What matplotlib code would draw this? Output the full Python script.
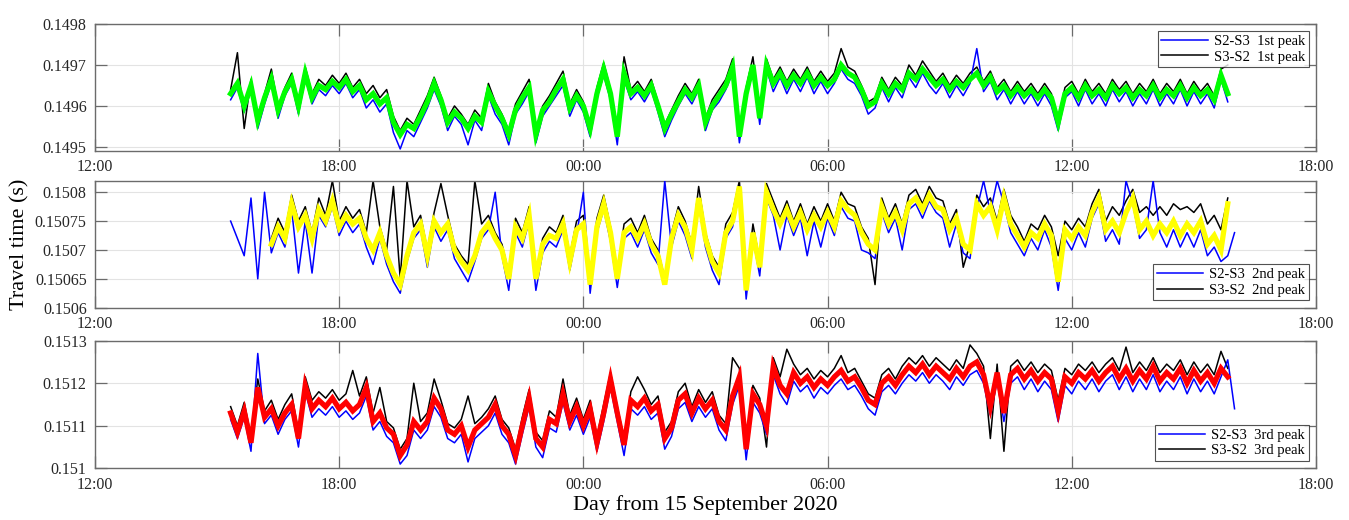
import numpy as np
import pandas as pd
import matplotlib
matplotlib.use("Agg")
import matplotlib.pyplot as plt
import matplotlib.dates as mdates

nan = np.nan

# ---------------- data ----------------
times = pd.date_range("2020-09-15 15:20", periods=149, freq="10min")
x_start = pd.Timestamp("2020-09-15 12:00")
x_end = pd.Timestamp("2020-09-16 18:00")
x_tick_times = pd.date_range("2020-09-15 12:00", "2020-09-16 18:00", freq="6h")

# Panel 1: 1st peak
p1_s2s3 = [
0.149615, 0.149645, 0.149585, 0.149640, 0.149545, 0.149605, 0.149655, 0.149570, 0.149625, 0.149655,
0.149580, 0.149670, 0.149605, 0.149640, 0.149625, 0.149650, 0.149630, 0.149655, 0.149620, 0.149640,
0.149595, 0.149615, 0.149585, 0.149605, 0.149535, 0.149495, 0.149540, 0.149525, 0.149560, 0.149595,
0.149640, 0.149600, 0.149540, 0.149575, 0.149555, 0.149505, 0.149565, 0.149540, 0.149625, 0.149580,
0.149555, 0.149505, 0.149580, 0.149605, 0.149635, 0.149510, 0.149575, 0.149600, 0.149625, 0.149650,
0.149575, 0.149615, 0.149585, 0.149525, 0.149620, 0.149675, 0.149615, 0.149505, 0.149665, 0.149615,
0.149635, 0.149610, 0.149640, 0.149585, 0.149525, 0.149565, 0.149600, 0.149630, 0.149605, 0.149640,
0.149540, 0.149590, 0.149610, 0.149640, 0.149680, 0.149510, 0.149620, 0.149685, 0.149555, 0.149690,
0.149635, 0.149670, 0.149630, 0.149665, 0.149635, 0.149670, 0.149630, 0.149660, 0.149630, 0.149655,
0.149690, 0.149665, 0.149655, 0.149625, 0.149580, 0.149595, 0.149645, 0.149610, 0.149645, 0.149620,
0.149670, 0.149645, 0.149680, 0.149650, 0.149630, 0.149655, 0.149620, 0.149650, 0.149625, 0.149655,
0.149740, 0.149635, 0.149660, 0.149615, 0.149640, 0.149605, 0.149635, 0.149605, 0.149630, 0.149600,
0.149630, 0.149600, 0.149540, 0.149620, 0.149635, 0.149600, 0.149640, 0.149605, 0.149630, 0.149600,
0.149640, 0.149610, 0.149635, 0.149600, 0.149630, 0.149605, 0.149640, 0.149600, 0.149630, 0.149605,
0.149640, 0.149600, 0.149635, 0.149605, 0.149630, 0.149595, 0.149665, 0.149610, nan]
p1_s3s2 = [
0.149640, 0.149730, 0.149545, 0.149665, 0.149575, 0.149630, 0.149690, 0.149598, 0.149645, 0.149680,
0.149610, 0.149695, 0.149630, 0.149665, 0.149650, 0.149675, 0.149655, 0.149680, 0.149645, 0.149665,
0.149630, 0.149650, 0.149620, 0.149640, 0.149575, 0.149540, 0.149570, 0.149555, 0.149590, 0.149625,
0.149670, 0.149625, 0.149570, 0.149600, 0.149580, 0.149555, 0.149590, 0.149570, 0.149655, 0.149610,
0.149580, 0.149540, 0.149605, 0.149635, 0.149665, 0.149540, 0.149600, 0.149625, 0.149655, 0.149685,
0.149605, 0.149640, 0.149610, 0.149555, 0.149645, 0.149705, 0.149640, 0.149535, 0.149720, 0.149640,
0.149660, 0.149635, 0.149665, 0.149610, 0.149555, 0.149590, 0.149625, 0.149655, 0.149630, 0.149665,
0.149570, 0.149615, 0.149640, 0.149665, 0.149715, 0.149535, 0.149645, 0.149720, 0.149580, 0.149715,
0.149665, 0.149695, 0.149660, 0.149690, 0.149665, 0.149695, 0.149660, 0.149685, 0.149660, 0.149680,
0.149740, 0.149695, 0.149685, 0.149650, 0.149610, 0.149620, 0.149670, 0.149640, 0.149670, 0.149650,
0.149700, 0.149675, 0.149710, 0.149685, 0.149660, 0.149680, 0.149650, 0.149675, 0.149655, 0.149680,
0.149695, 0.149660, 0.149685, 0.149645, 0.149665, 0.149635, 0.149660, 0.149635, 0.149655, 0.149630,
0.149655, 0.149630, 0.149570, 0.149645, 0.149660, 0.149630, 0.149665, 0.149635, 0.149655, 0.149630,
0.149665, 0.149640, 0.149660, 0.149630, 0.149655, 0.149635, 0.149665, 0.149630, 0.149655, 0.149635,
0.149665, 0.149630, 0.149660, 0.149635, 0.149655, 0.149625, 0.149690, 0.149700, nan]
p1_mid = [
0.149630, 0.149655, 0.149600, 0.149650, 0.149565, 0.149620, 0.149665, 0.149590, 0.149635, 0.149665,
0.149600, 0.149680, 0.149620, 0.149650, 0.149640, 0.149660, 0.149645, 0.149665, 0.149635, 0.149650,
0.149615, 0.149630, 0.149605, 0.149620, 0.149560, 0.149530, 0.149555, 0.149545, 0.149575, 0.149610,
0.149655, 0.149615, 0.149560, 0.149585, 0.149570, 0.149545, 0.149575, 0.149560, 0.149635, 0.149600,
0.149570, 0.149530, 0.149590, 0.149620, 0.149645, 0.149530, 0.149590, 0.149610, 0.149640, 0.149665,
0.149595, 0.149625, 0.149600, 0.149545, 0.149630, 0.149690, 0.149630, 0.149525, 0.149680, 0.149630,
0.149645, 0.149625, 0.149650, 0.149600, 0.149545, 0.149580, 0.149610, 0.149640, 0.149620, 0.149650,
0.149560, 0.149600, 0.149625, 0.149650, 0.149695, 0.149525, 0.149630, 0.149700, 0.149570, 0.149700,
0.149655, 0.149680, 0.149650, 0.149675, 0.149655, 0.149680, 0.149650, 0.149670, 0.149650, 0.149665,
0.149700, 0.149680, 0.149670, 0.149640, 0.149600, 0.149610, 0.149655, 0.149630, 0.149655, 0.149640,
0.149680, 0.149665, 0.149690, 0.149670, 0.149650, 0.149665, 0.149640, 0.149660, 0.149645, 0.149665,
0.149680, 0.149650, 0.149670, 0.149635, 0.149650, 0.149625, 0.149645, 0.149625, 0.149640, 0.149620,
0.149640, 0.149620, 0.149560, 0.149630, 0.149645, 0.149620, 0.149650, 0.149625, 0.149640, 0.149620,
0.149650, 0.149630, 0.149645, 0.149620, 0.149640, 0.149625, 0.149650, 0.149620, 0.149640, 0.149625,
0.149650, 0.149620, 0.149645, 0.149625, 0.149640, 0.149615, 0.149675, 0.149630, nan]

# Panel 2: 2nd peak
p2_s2s3 = [
0.150750, 0.150720, 0.150690, 0.150790, 0.150650, 0.150800, 0.150695, 0.150730, 0.150705, 0.150770,
0.150660, 0.150750, 0.150660, 0.150760, 0.150740, 0.150775, 0.150725, 0.150750, 0.150730, 0.150745,
0.150705, 0.150675, 0.150720, 0.150675, 0.150645, 0.150625, 0.150680, 0.150720, 0.150735, 0.150670,
0.150740, 0.150715, 0.150735, 0.150685, 0.150665, 0.150645, 0.150680, 0.150720, 0.150735, 0.150800,
0.150690, 0.150630, 0.150730, 0.150705, 0.150750, 0.150630, 0.150695, 0.150715, 0.150705, 0.150735,
0.150665, 0.150725, 0.150800, 0.150625, 0.150730, 0.150770, 0.150715, 0.150635, 0.150720, 0.150730,
0.150705, 0.150735, 0.150695, 0.150675, 0.150820, 0.150705, 0.150750, 0.150725, 0.150685, 0.150780,
0.150705, 0.150665, 0.150640, 0.150720, 0.150740, 0.150800, 0.150615, 0.150720, 0.150655, 0.150790,
0.150760, 0.150700, 0.150760, 0.150725, 0.150755, 0.150690, 0.150750, 0.150705, 0.150755, 0.150725,
0.150775, 0.150755, 0.150750, 0.150700, 0.150695, 0.150685, 0.150765, 0.150730, 0.150755, 0.150700,
0.150770, 0.150780, 0.150755, 0.150785, 0.150765, 0.150755, 0.150705, 0.150745, 0.150695, 0.150685,
0.150770, 0.150820, 0.150765, 0.150820, 0.150780, 0.150730, 0.150710, 0.150690, 0.150720, 0.150700,
0.150735, 0.150705, 0.150630, 0.150720, 0.150700, 0.150730, 0.150705, 0.150755, 0.150780, 0.150715,
0.150735, 0.150710, 0.150820, 0.150780, 0.150720, 0.150735, 0.150820, 0.150730, 0.150705, 0.150735,
0.150705, 0.150730, 0.150705, 0.150735, 0.150690, 0.150705, 0.150680, 0.150690, 0.150730]
p2_s3s2 = [
nan, nan, nan, nan, nan, nan, 0.150720, 0.150755, 0.150730, 0.150795,
0.150750, 0.150775, 0.150730, 0.150790, 0.150760, 0.150820, 0.150750, 0.150775, 0.150755, 0.150770,
0.150730, 0.150820, 0.150740, 0.150700, 0.150810, 0.150650, 0.150820, 0.150740, 0.150760, 0.150700,
0.150765, 0.150815, 0.150760, 0.150710, 0.150690, 0.150675, 0.150820, 0.150745, 0.150760, 0.150730,
0.150710, 0.150660, 0.150755, 0.150730, 0.150775, 0.150660, 0.150720, 0.150740, 0.150730, 0.150760,
0.150690, 0.150750, 0.150760, 0.150650, 0.150755, 0.150795, 0.150740, 0.150660, 0.150745, 0.150755,
0.150730, 0.150760, 0.150720, 0.150700, 0.150650, 0.150730, 0.150775, 0.150750, 0.150710, 0.150810,
0.150730, 0.150690, 0.150670, 0.150745, 0.150765, 0.150820, 0.150640, 0.150745, 0.150680, 0.150815,
0.150785, 0.150755, 0.150785, 0.150750, 0.150780, 0.150745, 0.150775, 0.150750, 0.150780, 0.150750,
0.150800, 0.150780, 0.150775, 0.150740, 0.150720, 0.150640, 0.150790, 0.150755, 0.150780, 0.150745,
0.150795, 0.150805, 0.150780, 0.150810, 0.150790, 0.150785, 0.150745, 0.150770, 0.150670, 0.150710,
0.150795, 0.150775, 0.150790, 0.150750, 0.150805, 0.150760, 0.150740, 0.150715, 0.150745, 0.150735,
0.150760, 0.150740, 0.150690, 0.150750, 0.150735, 0.150755, 0.150740, 0.150780, 0.150805, 0.150750,
0.150775, 0.150760, 0.150785, 0.150805, 0.150765, 0.150775, 0.150760, 0.150775, 0.150760, 0.150780,
0.150770, 0.150775, 0.150765, 0.150780, 0.150745, 0.150760, 0.150735, 0.150790, nan]
p2_mid = [
nan, nan, nan, nan, nan, nan, 0.150710, 0.150740, 0.150720, 0.150780,
0.150740, 0.150760, 0.150720, 0.150770, 0.150750, 0.150785, 0.150740, 0.150760, 0.150745, 0.150755,
0.150720, 0.150700, 0.150730, 0.150690, 0.150660, 0.150640, 0.150690, 0.150730, 0.150745, 0.150690,
0.150750, 0.150730, 0.150745, 0.150700, 0.150680, 0.150665, 0.150690, 0.150730, 0.150745, 0.150720,
0.150700, 0.150650, 0.150740, 0.150720, 0.150760, 0.150650, 0.150710, 0.150725, 0.150720, 0.150745,
0.150680, 0.150735, 0.150745, 0.150640, 0.150740, 0.150780, 0.150730, 0.150650, 0.150730, 0.150740,
0.150720, 0.150745, 0.150710, 0.150690, 0.150640, 0.150720, 0.150760, 0.150740, 0.150700, 0.150790,
0.150720, 0.150680, 0.150660, 0.150730, 0.150750, 0.150810, 0.150630, 0.150730, 0.150670, 0.150800,
0.150770, 0.150745, 0.150770, 0.150740, 0.150765, 0.150735, 0.150760, 0.150740, 0.150765, 0.150740,
0.150785, 0.150770, 0.150760, 0.150730, 0.150710, 0.150700, 0.150775, 0.150745, 0.150765, 0.150735,
0.150780, 0.150790, 0.150770, 0.150795, 0.150775, 0.150770, 0.150735, 0.150755, 0.150710, 0.150700,
0.150780, 0.150760, 0.150775, 0.150735, 0.150790, 0.150745, 0.150725, 0.150705, 0.150730, 0.150720,
0.150745, 0.150725, 0.150645, 0.150735, 0.150720, 0.150740, 0.150725, 0.150765, 0.150790, 0.150735,
0.150750, 0.150730, 0.150765, 0.150790, 0.150735, 0.150750, 0.150725, 0.150745, 0.150730, 0.150750,
0.150725, 0.150745, 0.150730, 0.150750, 0.150710, 0.150725, 0.150700, 0.150780, nan]

# Panel 3: 3rd peak
p3_s2s3 = [
0.151115, 0.151070, 0.151120, 0.151040, 0.151270, 0.151105, 0.151125, 0.151080, 0.151115, 0.151135,
0.151050, 0.151180, 0.151120, 0.151140, 0.151125, 0.151145, 0.151120, 0.151135, 0.151115, 0.151130,
0.151170, 0.151090, 0.151110, 0.151075, 0.151060, 0.151010, 0.151030, 0.151090, 0.151070, 0.151090,
0.151145, 0.151120, 0.151070, 0.151060, 0.151080, 0.151015, 0.151070, 0.151085, 0.151100, 0.151130,
0.151080, 0.151060, 0.151010, 0.151080, 0.151145, 0.151050, 0.151025, 0.151095, 0.151085, 0.151155,
0.151090, 0.151125, 0.151080, 0.151120, 0.151040, 0.151110, 0.151190, 0.151110, 0.151030, 0.151140,
0.151125, 0.151145, 0.151115, 0.151130, 0.151045, 0.151075, 0.151140, 0.151155, 0.151110, 0.151145,
0.151120, 0.151140, 0.151090, 0.151065, 0.151150, 0.151195, 0.151020, 0.151155, 0.151130, 0.151080,
0.151220, 0.151175, 0.151150, 0.151205, 0.151180, 0.151195, 0.151165, 0.151190, 0.151175, 0.151195,
0.151210, 0.151185, 0.151195, 0.151170, 0.151140, 0.151125, 0.151180, 0.151195, 0.151175, 0.151200,
0.151220, 0.151205, 0.151225, 0.151200, 0.151220, 0.151205, 0.151185, 0.151215, 0.151195, 0.151220,
0.151230, 0.151200, 0.151125, 0.151205, 0.151110, 0.151200, 0.151215, 0.151185, 0.151210, 0.151180,
0.151205, 0.151185, 0.151110, 0.151195, 0.151175, 0.151205, 0.151185, 0.151210, 0.151180, 0.151205,
0.151220, 0.151185, 0.151215, 0.151180, 0.151210, 0.151185, 0.151220, 0.151180, 0.151205, 0.151185,
0.151215, 0.151175, 0.151210, 0.151180, 0.151205, 0.151175, 0.151215, 0.151255, 0.151140]
p3_s3s2 = [
0.151145, 0.151100, 0.151155, 0.151075, 0.151210, 0.151135, 0.151160, 0.151115, 0.151150, 0.151175,
0.151085, 0.151215, 0.151160, 0.151180, 0.151165, 0.151185, 0.151160, 0.151175, 0.151230, 0.151170,
0.151215, 0.151130, 0.151190, 0.151110, 0.151095, 0.151045, 0.151070, 0.151200, 0.151110, 0.151130,
0.151210, 0.151160, 0.151105, 0.151095, 0.151115, 0.151170, 0.151105, 0.151120, 0.151140, 0.151170,
0.151115, 0.151095, 0.151045, 0.151120, 0.151185, 0.151085, 0.151065, 0.151135, 0.151120, 0.151210,
0.151125, 0.151165, 0.151115, 0.151160, 0.151075, 0.151150, 0.151225, 0.151145, 0.151070, 0.151180,
0.151215, 0.151185, 0.151150, 0.151170, 0.151085, 0.151110, 0.151180, 0.151200, 0.151145, 0.151185,
0.151155, 0.151180, 0.151125, 0.151105, 0.151260, 0.151235, 0.151060, 0.151195, 0.151165, 0.151050,
0.151260, 0.151215, 0.151280, 0.151245, 0.151220, 0.151235, 0.151210, 0.151230, 0.151215, 0.151235,
0.151265, 0.151225, 0.151235, 0.151205, 0.151175, 0.151165, 0.151220, 0.151235, 0.151210, 0.151240,
0.151260, 0.151245, 0.151265, 0.151240, 0.151260, 0.151245, 0.151230, 0.151255, 0.151235, 0.151290,
0.151270, 0.151240, 0.151070, 0.151245, 0.151040, 0.151240, 0.151255, 0.151230, 0.151250, 0.151225,
0.151245, 0.151230, 0.151160, 0.151235, 0.151220, 0.151245, 0.151230, 0.151250, 0.151225, 0.151245,
0.151260, 0.151230, 0.151285, 0.151225, 0.151250, 0.151230, 0.151260, 0.151225, 0.151245, 0.151230,
0.151255, 0.151220, 0.151250, 0.151225, 0.151245, 0.151220, 0.151275, 0.151235, nan]
p3_mid = [
0.151130, 0.151085, 0.151135, 0.151060, 0.151190, 0.151120, 0.151140, 0.151100, 0.151130, 0.151150,
0.151070, 0.151195, 0.151140, 0.151160, 0.151145, 0.151165, 0.151140, 0.151155, 0.151135, 0.151150,
0.151190, 0.151110, 0.151130, 0.151095, 0.151080, 0.151030, 0.151055, 0.151110, 0.151090, 0.151110,
0.151165, 0.151140, 0.151090, 0.151080, 0.151100, 0.151050, 0.151090, 0.151105, 0.151120, 0.151150,
0.151100, 0.151080, 0.151030, 0.151100, 0.151165, 0.151070, 0.151050, 0.151115, 0.151105, 0.151175,
0.151110, 0.151145, 0.151100, 0.151140, 0.151060, 0.151130, 0.151210, 0.151130, 0.151055, 0.151160,
0.151145, 0.151165, 0.151135, 0.151150, 0.151070, 0.151095, 0.151160, 0.151175, 0.151130, 0.151165,
0.151140, 0.151160, 0.151110, 0.151090, 0.151170, 0.151215, 0.151045, 0.151175, 0.151150, 0.151100,
0.151240, 0.151195, 0.151175, 0.151225, 0.151200, 0.151215, 0.151190, 0.151210, 0.151195, 0.151215,
0.151230, 0.151205, 0.151215, 0.151190, 0.151160, 0.151150, 0.151200, 0.151215, 0.151195, 0.151220,
0.151240, 0.151225, 0.151245, 0.151220, 0.151240, 0.151225, 0.151210, 0.151235, 0.151215, 0.151240,
0.151250, 0.151220, 0.151145, 0.151225, 0.151130, 0.151220, 0.151235, 0.151210, 0.151230, 0.151205,
0.151225, 0.151210, 0.151135, 0.151215, 0.151200, 0.151225, 0.151210, 0.151230, 0.151205, 0.151225,
0.151240, 0.151210, 0.151235, 0.151205, 0.151230, 0.151210, 0.151240, 0.151205, 0.151225, 0.151210,
0.151235, 0.151200, 0.151230, 0.151205, 0.151225, 0.151200, 0.151235, 0.151215, nan]

panel_series = [(p1_s2s3, p1_s3s2, p1_mid), (p2_s2s3, p2_s3s2, p2_mid), (p3_s2s3, p3_s3s2, p3_mid)]
peak_names = ["1st peak", "2nd peak", "3rd peak"]
mid_colors = ["#00ff00", "#ffff00", "#ff0000"]
y_limits = [(0.14949, 0.14980), (0.15060, 0.15082), (0.15100, 0.15130)]
y_ticks = [[0.1495, 0.1496, 0.1497, 0.1498],
           [0.1506, 0.15065, 0.1507, 0.15075, 0.1508],
           [0.1510, 0.1511, 0.1512, 0.1513]]
y_tick_labels = [["0.1495", "0.1496", "0.1497", "0.1498"],
                 ["0.1506", "0.15065", "0.1507", "0.15075", "0.1508"],
                 ["0.151", "0.1511", "0.1512", "0.1513"]]
legend_locs = ["upper right", "lower right", "lower right"]

# ---------------- plot ----------------
plt.rcParams["font.family"] = ["Liberation Serif", "DejaVu Serif"]
fig = plt.figure(figsize=(13.49, 5.20), dpi=100)

left, width = 0.0704, 0.9051
boxes = [(0.7096, 0.2442), (0.4083, 0.2442), (0.0994, 0.2454)]
edge = "#6b6b6b"

for i in range(3):
    bot, h = boxes[i]
    ax = fig.add_axes([left, bot, width, h])
    s23, s32, mid = panel_series[i]
    l1, = ax.plot(times, s23, color="#0000ff", lw=1.1, label="S2-S3  " + peak_names[i], zorder=3)
    l2, = ax.plot(times, s32, color="#000000", lw=1.1, label="S3-S2  " + peak_names[i], zorder=2)
    ax.plot(times, mid, color=mid_colors[i], lw=3.8, zorder=4, solid_joinstyle="miter")

    ax.set_xlim(x_start, x_end)
    ax.set_ylim(*y_limits[i])
    ax.set_xticks(x_tick_times)
    ax.xaxis.set_major_formatter(mdates.DateFormatter("%H:%M"))
    ax.set_yticks(y_ticks[i])
    ax.set_yticklabels(y_tick_labels[i])
    ax.grid(True, color="#e3e3e3", lw=0.8, zorder=0)
    ax.set_axisbelow(True)
    ax.tick_params(direction="in", length=8.5, width=0.9, color=edge,
                   top=True, right=True, labelsize=11.5, labelcolor="#262626", pad=6)
    for sp in ax.spines.values():
        sp.set_color(edge)
        sp.set_linewidth(1.0)

    leg = ax.legend(handles=[l1, l2], loc=legend_locs[i], fontsize=10.5,
                    frameon=True, fancybox=False, handlelength=3.2,
                    borderpad=0.25, labelspacing=0.15, handletextpad=0.4,
                    borderaxespad=0.5)
    leg.get_frame().set_edgecolor("#262626")
    leg.get_frame().set_linewidth(0.8)
    if i == 2:
        ax.set_xlabel("Day from 15 September 2020", fontsize=16, color="#000000", labelpad=2)
    if i == 1:
        ax.set_ylabel("Travel time (s)", fontsize=16, color="#000000", labelpad=4)

fig.savefig("out.png", dpi=100)
